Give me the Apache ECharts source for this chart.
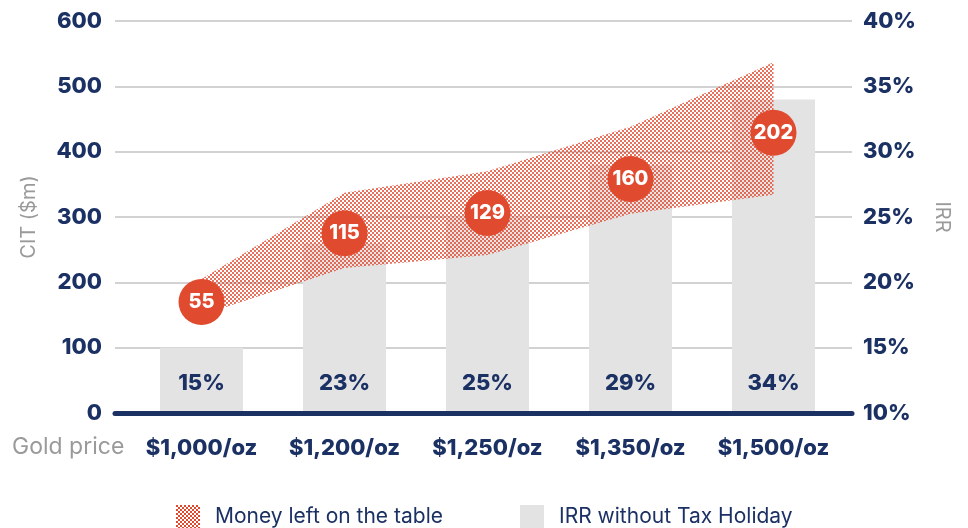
<!DOCTYPE html>
<html>
<head>
<meta charset="utf-8">
<script src="https://cdn.jsdelivr.net/npm/echarts@6/dist/echarts.min.js"></script>
<style>
  html, body { margin: 0; padding: 0; background: #fff; }
  #chart { width: 968px; height: 528px; }
</style>
</head>
<body>
<div id="chart"></div>
<script>
var goldPrices = ['$1,000/oz', '$1,200/oz', '$1,250/oz', '$1,350/oz', '$1,500/oz'];
var irrValues = [15, 23, 25, 29, 34];
var bandLower = [150, 222, 242, 305, 334];
var bandUpper = [205, 337, 370, 438, 537];
var moneyLeft = [55, 115, 129, 160, 202];
var moneyPos = [170, 275, 306, 358, 429];
var citTicks = [0, 600, 100];
var irrTicks = [10, 40, 5];

var navy = '#1b3164';
var red = '#e04a2f';
var grey = '#e3e3e3';
var font = 'Inter';

// dotted fill for the band
function makePattern() {
    var c = document.createElement('canvas');
    c.width = 4;
    c.height = 4;
    var ctx = c.getContext('2d');
    ctx.fillStyle = red;
    ctx.fillRect(0, 0, 2, 2);
    ctx.fillRect(2, 2, 2, 2);
    return c;
}
var pattern = { image: makePattern(), repeat: 'repeat' };

var bandDiff = bandUpper.map(function (v, i) { return v - bandLower[i]; });
var circles = moneyPos.map(function (v, i) { return [i, v]; });

var option = {
    animation: false,
    grid: [
        { left: 115, right: 116, top: 21, bottom: 115 },
        { left: 130, right: 123, top: 21, bottom: 115 }
    ],
    xAxis: [
        {
            type: 'category', gridIndex: 0, data: goldPrices,
            axisLine: { lineStyle: { color: navy, width: 5 } },
            axisTick: { show: false }, axisLabel: { show: false }, z: 10
        },
        {
            type: 'category', gridIndex: 1, data: goldPrices,
            axisLine: { show: false }, axisTick: { show: false },
            axisLabel: { interval: 0, hideOverlap: false, margin: 24, color: navy, fontFamily: font, fontWeight: 800, fontSize: 22 }
        }
    ],
    yAxis: [
        {
            type: 'value', gridIndex: 0, min: citTicks[0], max: citTicks[1], interval: citTicks[2],
            name: 'CIT ($m)', nameLocation: 'middle', nameGap: 76,
            nameTextStyle: { color: '#9a9a9a', fontFamily: font, fontSize: 20 },
            axisLine: { show: false }, axisTick: { show: false },
            axisLabel: { margin: 13, color: navy, fontFamily: font, fontWeight: 800, fontSize: 22 },
            splitLine: { lineStyle: { color: '#d2d2d2', width: 2 } }
        },
        {
            type: 'value', gridIndex: 0, position: 'right', min: irrTicks[0], max: irrTicks[1], interval: irrTicks[2],
            name: 'IRR', nameLocation: 'middle', nameGap: 80, nameRotate: -90,
            nameTextStyle: { color: '#9a9a9a', fontFamily: font, fontSize: 20 },
            axisLine: { show: false }, axisTick: { show: false },
            axisLabel: { margin: 11, color: navy, fontFamily: font, fontWeight: 800, fontSize: 22, formatter: '{value}%' },
            splitLine: { show: false }
        },
        { type: 'value', gridIndex: 1, min: citTicks[0], max: citTicks[1], show: false },
        { type: 'value', gridIndex: 1, min: irrTicks[0], max: irrTicks[1], show: false }
    ],
    legend: [
        {
            left: 171, top: 500, itemWidth: 24, itemHeight: 24,
            textStyle: { color: navy, fontFamily: font, fontSize: 21, padding: [0, 0, 0, 10] },
            data: [{ name: 'Money left on the table', icon: 'rect', itemStyle: { color: pattern } }]
        },
        {
            left: 515, top: 500, itemWidth: 24, itemHeight: 24,
            textStyle: { color: navy, fontFamily: font, fontSize: 21, padding: [0, 0, 0, 10] },
            data: [{ name: 'IRR without Tax Holiday', icon: 'rect' }]
        }
    ],
    graphic: [
        {
            type: 'text', left: 12, top: 436,
            style: { text: 'Gold price', fill: '#9a9a9a', font: '23px ' + font }
        }
    ],
    series: [
        {
            name: 'IRR without Tax Holiday', type: 'bar', xAxisIndex: 1, yAxisIndex: 3,
            data: irrValues, barWidth: 83, itemStyle: { color: grey },
            label: {
                show: true, position: 'insideBottom', distance: 19, formatter: '{c}%',
                color: navy, fontFamily: font, fontWeight: 800, fontSize: 22
            }
        },
        {
            name: 'lower', type: 'line', xAxisIndex: 1, yAxisIndex: 2, stack: 'band',
            data: bandLower, symbol: 'none', lineStyle: { opacity: 0 }, silent: true
        },
        {
            name: 'Money left on the table', type: 'line', xAxisIndex: 1, yAxisIndex: 2, stack: 'band',
            data: bandDiff, symbol: 'none', lineStyle: { opacity: 0 },
            itemStyle: { color: pattern },
            areaStyle: { color: pattern, opacity: 0.78 }
        },
        {
            name: 'money', type: 'scatter', xAxisIndex: 1, yAxisIndex: 2,
            data: circles, symbolSize: 46, itemStyle: { color: red, opacity: 1 }, z: 5,
            label: {
                show: true, position: 'inside', color: '#fff', fontFamily: font, fontWeight: 800, fontSize: 20,
                formatter: function (p) { return moneyLeft[p.dataIndex]; }
            }
        }
    ]
};

var chart = echarts.init(document.getElementById('chart'));
chart.setOption(option);
</script>
</body>
</html>
